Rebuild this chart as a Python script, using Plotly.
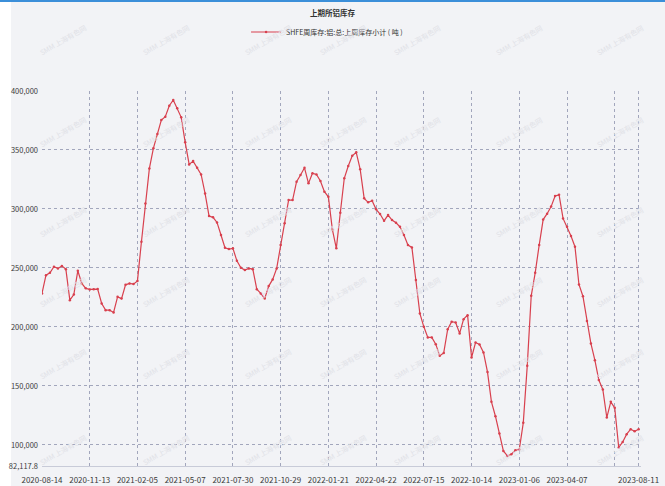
import plotly.graph_objects as go

# ---- data ----
inventory = [
    228400, 243900, 245900, 251000, 249600, 251600, 249000, 222700, 227500, 247600,
    236900, 232700, 231800, 232000, 232100, 219900, 214200, 214200, 212300, 225500,
    224000, 235700, 236900, 236300, 239000, 272200, 304700, 334400, 351400, 363500,
    375400, 378200, 387500, 392400, 385300, 377700, 356500, 337800, 340600, 334900,
    329300, 313200, 294000, 292900, 288600, 277900, 267100, 266000, 266600, 256000,
    250100, 248200, 249600, 249000, 232000, 228400, 224100, 234600, 240300, 249600,
    269400, 287800, 307500, 307500, 323100, 328800, 334900, 321700, 330200, 329300,
    323700, 314600, 310300, 282700, 266600, 296800, 326000, 336400, 345100, 348000,
    333600, 309000, 305600, 307000, 299700, 295700, 290000, 294800, 290600, 288300,
    284900, 277900, 269400, 267400, 239700, 211400, 200100, 191100, 191100, 185400,
    175500, 178000, 198100, 204400, 203800, 194500, 206600, 210000, 174100, 186800,
    185100, 178400, 161900, 136500, 124300, 109700, 94900, 90700, 92100, 95500,
    96100, 118700, 167000, 226400, 245900, 269400, 291000, 296000, 302000, 311000,
    312000, 292000, 285000, 277000, 268000, 236000, 226000, 205000, 186000, 171800,
    155000, 147000, 123200, 136500, 131400, 97800, 102500, 109100, 113300, 111600,
    113300,
]
week_index = list(range(len(inventory)))

tick_index = [0, 12, 24, 36, 48, 60, 72, 84, 96, 108, 120, 132, 144, 150]
tick_labels = ["2020-08-14", "2020-11-13", "2021-02-05", "2021-05-07", "2021-07-30",
               "2021-10-29", "2022-01-21", "2022-04-22", "2022-07-15", "2022-10-14",
               "2023-01-06", "2023-04-07", "", "2023-08-11"]

y_min = 82117.8
y_ticks = [y_min, 100000, 150000, 200000, 250000, 300000, 350000, 400000]
y_tick_labels = ["82,117.8", "100,000", "150,000", "200,000", "250,000",
                 "300,000", "350,000", "400,000"]

series_name = "SHFE周库存:铝:总:上周库存小计 ( 吨 )"
title_text = "上期所铝库存"
watermark = "SMM 上海有色网"

FONT = "Noto Sans CJK SC"
BG = "#f2f3f6"
RED = "#d8404e"
GRID = "#a2a6bc"

fig = go.Figure()
fig.add_trace(go.Scatter(
    x=week_index, y=inventory, name=series_name,
    mode="lines+markers",
    line=dict(color=RED, width=1.2),
    marker=dict(color=RED, size=2.5, symbol="circle"),
    showlegend=True,
))

W, H = 665, 486
L, R, T, B = 42, 24, 91, 20
PW, PH = W - L - R, H - T - B

# watermark annotations (faint, rotated)
wm_cols = [35, 138, 240, 343, 445, 547, 648]
wm_rows = [20, 112, 202, 292, 384, 470]
for cy in wm_rows:
    for cx in wm_cols:
        fig.add_annotation(
            xref="paper", yref="paper",
            x=(cx - L) / PW, y=1 - (cy - T) / PH,
            text=watermark, showarrow=False, textangle=-30,
            font=dict(family=FONT, size=7, color="#e0e1e6"),
        )

fig.update_layout(
    width=W, height=H,
    margin=dict(l=L, r=R, t=T, b=B, pad=0, autoexpand=False),
    paper_bgcolor=BG, plot_bgcolor=BG,
    font=dict(family=FONT, size=8, color="#3a3a3a"),
    title=dict(text="<b>" + title_text + "</b>", x=0.5, xref="container",
               y=1 - 13 / H, yref="container", xanchor="center", yanchor="middle",
               font=dict(family=FONT, size=7.5, color="#333333")),
    legend=dict(orientation="h", x=0.37, xref="container", xanchor="left",
                y=1 - 32 / H, yref="container", yanchor="middle",
                bgcolor="rgba(0,0,0,0)", font=dict(family=FONT, size=7, color="#333333"),
                itemwidth=30),
    xaxis=dict(
        range=[0, 150.6], tickmode="array", tickvals=tick_index, ticktext=tick_labels,
        showgrid=True, gridcolor=GRID, griddash="dot", gridwidth=1,
        zeroline=False, showline=True, linecolor="#c8cbd8", linewidth=1,
        ticks="", tickangle=0, automargin=False, ticklabeloverflow="allow",
        ticklabelstandoff=6,
        tickfont=dict(family=FONT, size=8, color="#3a3a3a"),
        fixedrange=True,
    ),
    yaxis=dict(
        range=[y_min, 400000], tickmode="array", tickvals=y_ticks, ticktext=y_tick_labels,
        showgrid=True, gridcolor=GRID, griddash="dot", gridwidth=1,
        zeroline=False, showline=False, ticks="", automargin=False,
        ticklabelstandoff=3, ticklabeloverflow="allow",
        tickfont=dict(family=FONT, size=7.5, color="#3a3a3a"),
        fixedrange=True,
    ),
    shapes=[
        dict(type="rect", xref="paper", yref="paper", layer="below",
             x0=-L / PW, x1=(11 - L) / PW, y0=-B / PH, y1=1 + T / PH,
             fillcolor="white", line=dict(width=0)),
        dict(type="rect", xref="paper", yref="paper", layer="above",
             x0=-L / PW, x1=(W - L) / PW, y0=1 + (T - 2) / PH, y1=1 + T / PH,
             fillcolor="#3b8fd9", line=dict(width=0)),
    ],
)

fig.write_html(
    "out.html",
    config={"displayModeBar": False},
    post_script="document.body.style.margin='0';document.body.style.overflow='hidden';",
)
